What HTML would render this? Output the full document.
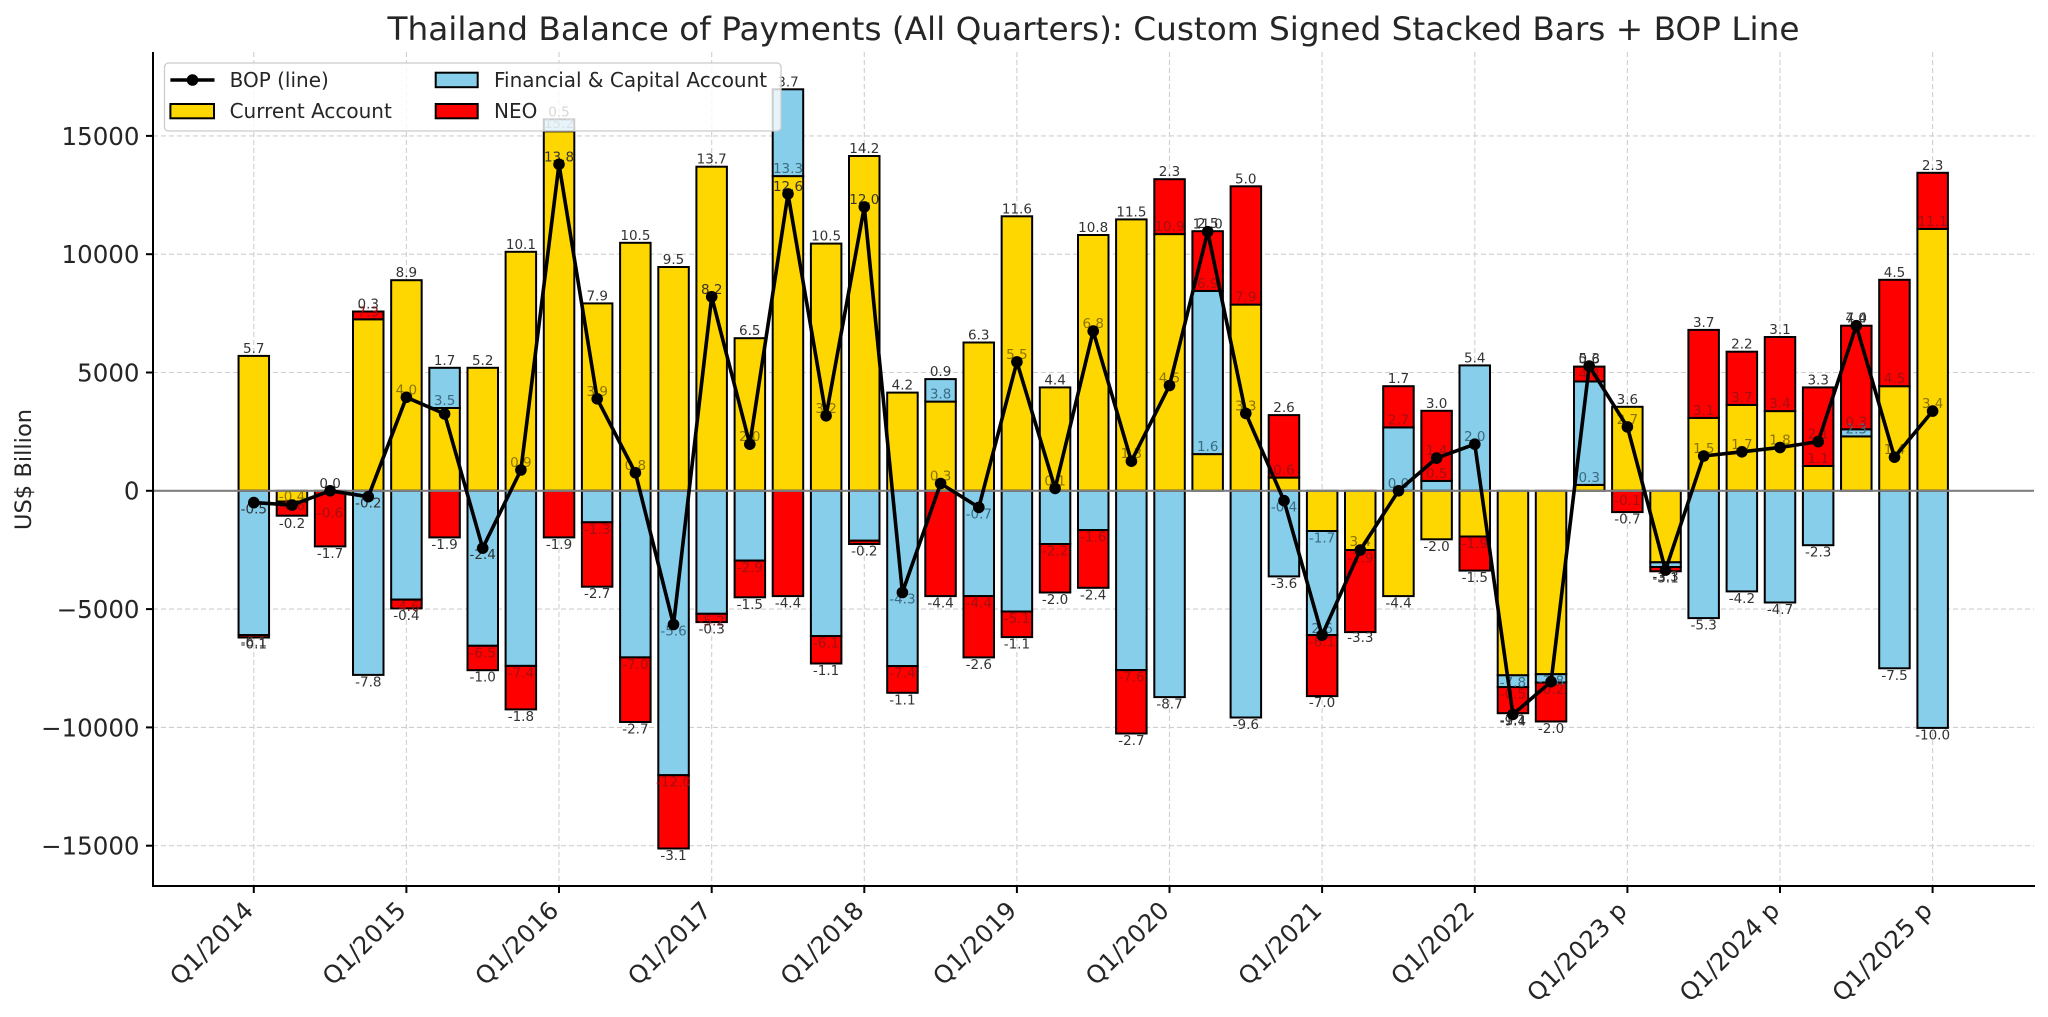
<!DOCTYPE html>
<html><head><meta charset="utf-8">
<style>
html,body{margin:0;padding:0;background:#fff;}
svg{display:block;font-family:"DejaVu Sans","Liberation Sans",sans-serif;}
.y{fill:#FFD700}.b{fill:#87CEEB}.r{fill:#FF0000}
.l{fill:#333}.lr{fill:#a31010}.lb{fill:#3b6b82}.lo{fill:#8a7300}
.bl text{font-size:13.5px;text-anchor:middle}
.tk{font-size:24.5px;fill:#262626}
</style></head>
<body>
<svg width="2048" height="1017" viewBox="0 0 2048 1017" xmlns="http://www.w3.org/2000/svg">
<rect width="2048" height="1017" fill="#fff"/>
<g stroke="#cfcfcf" stroke-width="1.1" stroke-dasharray="5 3">
<line x1="153" x2="2034" y1="845.7" y2="845.7"/><line x1="153" x2="2034" y1="727.4" y2="727.4"/><line x1="153" x2="2034" y1="609.1" y2="609.1"/><line x1="153" x2="2034" y1="372.5" y2="372.5"/><line x1="153" x2="2034" y1="254.2" y2="254.2"/><line x1="153" x2="2034" y1="135.9" y2="135.9"/>
<line x1="253.8" x2="253.8" y1="52" y2="886"/><line x1="406.4" x2="406.4" y1="52" y2="886"/><line x1="559.0" x2="559.0" y1="52" y2="886"/><line x1="711.7" x2="711.7" y1="52" y2="886"/><line x1="864.3" x2="864.3" y1="52" y2="886"/><line x1="1016.9" x2="1016.9" y1="52" y2="886"/><line x1="1169.5" x2="1169.5" y1="52" y2="886"/><line x1="1322.1" x2="1322.1" y1="52" y2="886"/><line x1="1474.8" x2="1474.8" y1="52" y2="886"/><line x1="1627.4" x2="1627.4" y1="52" y2="886"/><line x1="1780.0" x2="1780.0" y1="52" y2="886"/><line x1="1932.6" x2="1932.6" y1="52" y2="886"/>
</g>
<g stroke="#000" stroke-width="2">
<rect class="y" x="238.55" y="355.9" width="30.5" height="134.9"/><rect class="b" x="238.55" y="490.8" width="30.5" height="144.3"/><rect class="r" x="238.55" y="635.1" width="30.5" height="2.4"/>
<rect class="y" x="276.7" y="490.8" width="30.5" height="10.7"/><rect class="r" x="276.7" y="501.5" width="30.5" height="14.2"/>
<rect class="r" x="314.86" y="490.8" width="30.5" height="55.6"/>
<rect class="y" x="353.0" y="319.3" width="30.5" height="171.5"/><rect class="r" x="353.0" y="311.5" width="30.5" height="7.8"/><rect class="b" x="353.0" y="490.8" width="30.5" height="184.1"/>
<rect class="y" x="391.17" y="280.2" width="30.5" height="210.6"/><rect class="b" x="391.17" y="490.8" width="30.5" height="108.8"/><rect class="r" x="391.17" y="599.6" width="30.5" height="8.8"/>
<rect class="y" x="429.33" y="408.0" width="30.5" height="82.8"/><rect class="b" x="429.33" y="367.8" width="30.5" height="40.2"/><rect class="r" x="429.33" y="490.8" width="30.5" height="46.6"/>
<rect class="y" x="467.5" y="367.8" width="30.5" height="123.0"/><rect class="b" x="467.5" y="490.8" width="30.5" height="155.0"/><rect class="r" x="467.5" y="645.8" width="30.5" height="24.4"/>
<rect class="y" x="505.6" y="251.8" width="30.5" height="239.0"/><rect class="b" x="505.6" y="490.8" width="30.5" height="175.1"/><rect class="r" x="505.6" y="665.9" width="30.5" height="43.5"/>
<rect class="y" x="543.8" y="131.2" width="30.5" height="359.6"/><rect class="b" x="543.8" y="119.3" width="30.5" height="11.9"/><rect class="r" x="543.8" y="490.8" width="30.5" height="46.6"/>
<rect class="y" x="581.9" y="303.4" width="30.5" height="187.4"/><rect class="b" x="581.9" y="490.8" width="30.5" height="31.5"/><rect class="r" x="581.9" y="522.3" width="30.5" height="64.4"/>
<rect class="y" x="620.1" y="242.8" width="30.5" height="248.0"/><rect class="b" x="620.1" y="490.8" width="30.5" height="166.6"/><rect class="r" x="620.1" y="657.4" width="30.5" height="64.6"/>
<rect class="y" x="658.3" y="267.0" width="30.5" height="223.8"/><rect class="b" x="658.3" y="490.8" width="30.5" height="284.4"/><rect class="r" x="658.3" y="775.2" width="30.5" height="73.3"/>
<rect class="y" x="696.4" y="166.7" width="30.5" height="324.1"/><rect class="b" x="696.4" y="490.8" width="30.5" height="123.0"/><rect class="r" x="696.4" y="613.8" width="30.5" height="8.3"/>
<rect class="y" x="734.6" y="338.2" width="30.5" height="152.6"/><rect class="b" x="734.6" y="490.8" width="30.5" height="69.8"/><rect class="r" x="734.6" y="560.6" width="30.5" height="36.7"/>
<rect class="y" x="772.7" y="176.1" width="30.5" height="314.7"/><rect class="b" x="772.7" y="89.3" width="30.5" height="86.8"/><rect class="r" x="772.7" y="490.8" width="30.5" height="105.3"/>
<rect class="y" x="810.9" y="243.6" width="30.5" height="247.2"/><rect class="b" x="810.9" y="490.8" width="30.5" height="145.3"/><rect class="r" x="810.9" y="636.1" width="30.5" height="27.4"/>
<rect class="y" x="849.0" y="156.0" width="30.5" height="334.8"/><rect class="b" x="849.0" y="490.8" width="30.5" height="49.9"/><rect class="r" x="849.0" y="540.7" width="30.5" height="3.3"/>
<rect class="y" x="887.2" y="392.6" width="30.5" height="98.2"/><rect class="b" x="887.2" y="490.8" width="30.5" height="175.3"/><rect class="r" x="887.2" y="666.1" width="30.5" height="26.7"/>
<rect class="y" x="925.3" y="401.6" width="30.5" height="89.2"/><rect class="b" x="925.3" y="379.1" width="30.5" height="22.5"/><rect class="r" x="925.3" y="490.8" width="30.5" height="105.3"/>
<rect class="y" x="963.5" y="342.5" width="30.5" height="148.3"/><rect class="b" x="963.5" y="490.8" width="30.5" height="105.3"/><rect class="r" x="963.5" y="596.1" width="30.5" height="61.3"/>
<rect class="y" x="1001.65" y="216.3" width="30.5" height="274.5"/><rect class="b" x="1001.65" y="490.8" width="30.5" height="120.7"/><rect class="r" x="1001.65" y="611.5" width="30.5" height="25.6"/>
<rect class="y" x="1039.8" y="387.4" width="30.5" height="103.4"/><rect class="b" x="1039.8" y="490.8" width="30.5" height="53.2"/><rect class="r" x="1039.8" y="544.0" width="30.5" height="48.5"/>
<rect class="y" x="1078.0" y="235.0" width="30.5" height="255.8"/><rect class="b" x="1078.0" y="490.8" width="30.5" height="39.3"/><rect class="r" x="1078.0" y="530.1" width="30.5" height="57.7"/>
<rect class="y" x="1116.1" y="219.4" width="30.5" height="271.4"/><rect class="b" x="1116.1" y="490.8" width="30.5" height="179.3"/><rect class="r" x="1116.1" y="670.1" width="30.5" height="63.4"/>
<rect class="y" x="1154.3" y="234.1" width="30.5" height="256.7"/><rect class="r" x="1154.3" y="179.2" width="30.5" height="54.9"/><rect class="b" x="1154.3" y="490.8" width="30.5" height="206.3"/>
<rect class="y" x="1192.4" y="454.1" width="30.5" height="36.7"/><rect class="b" x="1192.4" y="290.9" width="30.5" height="163.2"/><rect class="r" x="1192.4" y="231.2" width="30.5" height="59.7"/>
<rect class="y" x="1230.6" y="304.6" width="30.5" height="186.2"/><rect class="r" x="1230.6" y="186.3" width="30.5" height="118.3"/><rect class="b" x="1230.6" y="490.8" width="30.5" height="226.7"/>
<rect class="y" x="1268.7" y="477.6" width="30.5" height="13.2"/><rect class="r" x="1268.7" y="415.1" width="30.5" height="62.5"/><rect class="b" x="1268.7" y="490.8" width="30.5" height="85.6"/>
<rect class="y" x="1306.9" y="490.8" width="30.5" height="40.2"/><rect class="b" x="1306.9" y="531.0" width="30.5" height="104.1"/><rect class="r" x="1306.9" y="635.1" width="30.5" height="61.0"/>
<rect class="y" x="1345.0" y="490.8" width="30.5" height="59.2"/><rect class="r" x="1345.0" y="550.0" width="30.5" height="82.1"/>
<rect class="b" x="1383.2" y="427.4" width="30.5" height="63.4"/><rect class="r" x="1383.2" y="386.2" width="30.5" height="41.2"/><rect class="y" x="1383.2" y="490.8" width="30.5" height="105.3"/>
<rect class="b" x="1421.35" y="480.9" width="30.5" height="9.9"/><rect class="r" x="1421.35" y="410.8" width="30.5" height="70.1"/><rect class="y" x="1421.35" y="490.8" width="30.5" height="48.5"/>
<rect class="b" x="1459.5" y="365.4" width="30.5" height="125.4"/><rect class="y" x="1459.5" y="490.8" width="30.5" height="45.7"/><rect class="r" x="1459.5" y="536.5" width="30.5" height="34.1"/>
<rect class="y" x="1497.7" y="490.8" width="30.5" height="184.5"/><rect class="b" x="1497.7" y="675.3" width="30.5" height="11.8"/><rect class="r" x="1497.7" y="687.1" width="30.5" height="26.1"/>
<rect class="y" x="1535.8" y="490.8" width="30.5" height="183.4"/><rect class="b" x="1535.8" y="674.2" width="30.5" height="8.3"/><rect class="r" x="1535.8" y="682.5" width="30.5" height="39.0"/>
<rect class="y" x="1574.0" y="484.9" width="30.5" height="5.9"/><rect class="b" x="1574.0" y="381.5" width="30.5" height="103.4"/><rect class="r" x="1574.0" y="366.6" width="30.5" height="14.9"/>
<rect class="y" x="1612.1" y="406.8" width="30.5" height="84.0"/><rect class="r" x="1612.1" y="490.8" width="30.5" height="21.3"/>
<rect class="y" x="1650.3" y="490.8" width="30.5" height="71.5"/><rect class="b" x="1650.3" y="562.3" width="30.5" height="4.7"/><rect class="r" x="1650.3" y="567.0" width="30.5" height="4.3"/>
<rect class="y" x="1688.4" y="417.9" width="30.5" height="72.9"/><rect class="r" x="1688.4" y="329.9" width="30.5" height="88.0"/><rect class="b" x="1688.4" y="490.8" width="30.5" height="127.3"/>
<rect class="y" x="1726.6" y="404.9" width="30.5" height="85.9"/><rect class="r" x="1726.6" y="351.7" width="30.5" height="53.2"/><rect class="b" x="1726.6" y="490.8" width="30.5" height="100.6"/>
<rect class="y" x="1764.75" y="411.1" width="30.5" height="79.7"/><rect class="r" x="1764.75" y="337.0" width="30.5" height="74.1"/><rect class="b" x="1764.75" y="490.8" width="30.5" height="111.7"/>
<rect class="y" x="1802.9" y="466.0" width="30.5" height="24.8"/><rect class="r" x="1802.9" y="387.4" width="30.5" height="78.6"/><rect class="b" x="1802.9" y="490.8" width="30.5" height="54.4"/>
<rect class="y" x="1841.05" y="436.4" width="30.5" height="54.4"/><rect class="b" x="1841.05" y="429.3" width="30.5" height="7.1"/><rect class="r" x="1841.05" y="325.7" width="30.5" height="103.6"/>
<rect class="y" x="1879.2" y="386.2" width="30.5" height="104.6"/><rect class="r" x="1879.2" y="279.8" width="30.5" height="106.4"/><rect class="b" x="1879.2" y="490.8" width="30.5" height="177.5"/>
<rect class="y" x="1917.4" y="228.9" width="30.5" height="261.9"/><rect class="r" x="1917.4" y="172.8" width="30.5" height="56.1"/><rect class="b" x="1917.4" y="490.8" width="30.5" height="237.1"/>
</g>
<line x1="153" x2="2034" y1="490.8" y2="490.8" stroke="#808080" stroke-width="2.2"/>
<g class="bl">
<text class="l" x="253.8" y="352.9">5.7</text><text class="l" x="253.8" y="646.6">-6.1</text><text class="l" x="253.8" y="648.5">-0.1</text><text class="l" x="253.8" y="513.6">-0.5</text>
<text class="lo" x="292.0" y="501">-0.4</text><text class="lr" x="292.0" y="510">-0.6</text><text class="l" x="292.0" y="528">-0.2</text>
<text class="l" x="330.1" y="487.8">0.0</text><text class="lr" x="330.1" y="517.5">-0.6</text><text class="l" x="330.1" y="557.9">-1.7</text>
<text class="lr" x="368.3" y="316.3">7.3</text><text class="l" x="368.3" y="308.5">0.3</text><text class="l" x="368.3" y="686.4">-7.8</text><text class="l" x="368.3" y="507.7">-0.2</text>
<text class="l" x="406.4" y="277.2">8.9</text><text class="lr" x="406.4" y="611.1">-4.6</text><text class="l" x="406.4" y="619.9">-0.4</text><text class="lo" x="406.4" y="394.3">4.0</text>
<text class="lb" x="444.6" y="405.0">3.5</text><text class="l" x="444.6" y="364.8">1.7</text><text class="l" x="444.6" y="548.9">-1.9</text>
<text class="l" x="482.7" y="364.8">5.2</text><text class="lr" x="482.7" y="657.3">-6.5</text><text class="l" x="482.7" y="681.6">-1.0</text><text class="l" x="482.7" y="559.1">-2.4</text>
<text class="l" x="520.9" y="248.8">10.1</text><text class="lr" x="520.9" y="677.4">-7.4</text><text class="l" x="520.9" y="720.9">-1.8</text><text class="lo" x="520.9" y="467.0">0.9</text>
<text class="lb" x="559.0" y="128.2">15.2</text><text class="l" x="559.0" y="116.3">0.5</text><text class="l" x="559.0" y="548.9">-1.9</text><text class="l" x="559.0" y="161.3">13.8</text>
<text class="l" x="597.2" y="300.4">7.9</text><text class="lr" x="597.2" y="533.8">-1.3</text><text class="l" x="597.2" y="598.1">-2.7</text><text class="lo" x="597.2" y="395.8">3.9</text>
<text class="l" x="635.4" y="239.8">10.5</text><text class="lr" x="635.4" y="668.9">-7.0</text><text class="l" x="635.4" y="733.5">-2.7</text><text class="lo" x="635.4" y="469.8">0.8</text>
<text class="l" x="673.5" y="264.0">9.5</text><text class="lr" x="673.5" y="786.7">-12.0</text><text class="l" x="673.5" y="860.0">-3.1</text><text class="lb" x="673.5" y="635.5">-5.6</text>
<text class="l" x="711.7" y="163.7">13.7</text><text class="lr" x="711.7" y="625.3">-5.2</text><text class="l" x="711.7" y="633.6">-0.3</text><text class="l" x="711.7" y="293.8">8.2</text>
<text class="l" x="749.8" y="335.2">6.5</text><text class="lr" x="749.8" y="572.1">-2.9</text><text class="l" x="749.8" y="608.8">-1.5</text><text class="lo" x="749.8" y="441.2">2.0</text>
<text class="lb" x="788.0" y="173.1">13.3</text><text class="l" x="788.0" y="86.3">3.7</text><text class="l" x="788.0" y="607.6">-4.4</text><text class="l" x="788.0" y="190.9">12.6</text>
<text class="l" x="826.1" y="240.6">10.5</text><text class="lr" x="826.1" y="647.6">-6.1</text><text class="l" x="826.1" y="675.0">-1.1</text><text class="lo" x="826.1" y="412.8">3.2</text>
<text class="l" x="864.3" y="153.0">14.2</text><text class="l" x="864.3" y="555.5">-0.2</text><text class="l" x="864.3" y="203.9">12.0</text>
<text class="l" x="902.4" y="389.6">4.2</text><text class="lr" x="902.4" y="677.6">-7.4</text><text class="l" x="902.4" y="704.4">-1.1</text><text class="lb" x="902.4" y="603.5">-4.3</text>
<text class="lb" x="940.6" y="398.6">3.8</text><text class="l" x="940.6" y="376.1">0.9</text><text class="l" x="940.6" y="607.6">-4.4</text><text class="lo" x="940.6" y="480.5">0.3</text>
<text class="l" x="978.8" y="339.5">6.3</text><text class="lr" x="978.8" y="607.6">-4.4</text><text class="l" x="978.8" y="668.9">-2.6</text><text class="lb" x="978.8" y="518.4">-0.7</text>
<text class="l" x="1016.9" y="213.3">11.6</text><text class="lr" x="1016.9" y="623.0">-5.1</text><text class="l" x="1016.9" y="648.5">-1.1</text><text class="lo" x="1016.9" y="358.9">5.5</text>
<text class="l" x="1055.1" y="384.4">4.4</text><text class="lr" x="1055.1" y="555.5">-2.2</text><text class="l" x="1055.1" y="604.0">-2.0</text><text class="lo" x="1055.1" y="485.4">0.1</text>
<text class="l" x="1093.2" y="232.0">10.8</text><text class="lr" x="1093.2" y="541.6">-1.6</text><text class="l" x="1093.2" y="599.3">-2.4</text><text class="lo" x="1093.2" y="328.1">6.8</text>
<text class="l" x="1131.4" y="216.4">11.5</text><text class="lr" x="1131.4" y="681.6">-7.6</text><text class="l" x="1131.4" y="745.1">-2.7</text><text class="lo" x="1131.4" y="458.2">1.3</text>
<text class="lr" x="1169.5" y="231.1">10.9</text><text class="l" x="1169.5" y="176.2">2.3</text><text class="l" x="1169.5" y="708.6">-8.7</text><text class="lo" x="1169.5" y="382.5">4.5</text>
<text class="lb" x="1207.7" y="451.1">1.6</text><text class="lr" x="1207.7" y="287.9">6.9</text><text class="l" x="1207.7" y="228.2">2.5</text><text class="l" x="1207.7" y="228.7">11.0</text>
<text class="lr" x="1245.8" y="301.6">7.9</text><text class="l" x="1245.8" y="183.3">5.0</text><text class="l" x="1245.8" y="729.0">-9.6</text><text class="lo" x="1245.8" y="410.4">3.3</text>
<text class="lr" x="1284.0" y="474.6">0.6</text><text class="l" x="1284.0" y="412.1">2.6</text><text class="l" x="1284.0" y="587.9">-3.6</text><text class="lb" x="1284.0" y="511.7">-0.4</text>
<text class="lb" x="1322.1" y="542.5">-1.7</text><text class="lb" x="1322.1" y="633">2.6</text><text class="lr" x="1322.1" y="646.5">-6.1</text><text class="l" x="1322.1" y="707">-7.0</text>
<text class="lo" x="1360.3" y="546">3.4</text><text class="lr" x="1360.3" y="562.5">-2.9</text><text class="l" x="1360.3" y="642">-3.3</text>
<text class="lr" x="1398.5" y="424.4">2.7</text><text class="l" x="1398.5" y="383.2">1.7</text><text class="l" x="1398.5" y="607.6">-4.4</text><text class="lb" x="1398.5" y="487.8">0.0</text>
<text class="lr" x="1436.6" y="477.9">0.5</text><text class="l" x="1436.6" y="407.8">3.0</text><text class="l" x="1436.6" y="550.8">-2.0</text><text class="lr" x="1436.6" y="455.1">1.4</text>
<text class="l" x="1474.8" y="362.4">5.4</text><text class="lr" x="1474.8" y="548.0">-1.9</text><text class="l" x="1474.8" y="582.0">-1.5</text><text class="lb" x="1474.8" y="441.2">2.0</text>
<text class="lb" x="1512.9" y="686.8">-7.8</text><text class="lr" x="1512.9" y="698.7">-0.5</text><text class="l" x="1512.9" y="724.7">-1.1</text><text class="l" x="1512.9" y="725.4">-9.4</text>
<text class="lb" x="1551.1" y="685.7">-7.8</text><text class="lr" x="1551.1" y="693.9">-0.2</text><text class="l" x="1551.1" y="733.0">-2.0</text>
<text class="lb" x="1589.2" y="481.9">0.3</text><text class="lr" x="1589.2" y="378.5">4.4</text><text class="l" x="1589.2" y="363.6">0.6</text><text class="l" x="1589.2" y="363.1">5.3</text>
<text class="l" x="1627.4" y="403.8">3.6</text><text class="lr" x="1627.4" y="505">-0.1</text><text class="l" x="1627.4" y="523.6">-0.7</text><text class="lo" x="1627.4" y="423.9">2.7</text>
<text class="l" x="1665.5" y="582.7">-3.1</text><text class="l" x="1665.5" y="581">-3.3</text>
<text class="lr" x="1703.7" y="414.9">3.1</text><text class="l" x="1703.7" y="326.9">3.7</text><text class="l" x="1703.7" y="629.6">-5.3</text><text class="lo" x="1703.7" y="453.0">1.5</text>
<text class="lr" x="1741.9" y="401.9">3.7</text><text class="l" x="1741.9" y="348.7">2.2</text><text class="l" x="1741.9" y="602.9">-4.2</text><text class="lo" x="1741.9" y="448.8">1.7</text>
<text class="lr" x="1780.0" y="408.1">3.4</text><text class="l" x="1780.0" y="334.0">3.1</text><text class="l" x="1780.0" y="614.0">-4.7</text><text class="lo" x="1780.0" y="444.5">1.8</text>
<text class="lr" x="1818.2" y="463.0">1.1</text><text class="l" x="1818.2" y="384.4">3.3</text><text class="l" x="1818.2" y="556.7">-2.3</text><text class="lr" x="1818.2" y="438.6">2.1</text>
<text class="lb" x="1856.3" y="433.4">2.3</text><text class="lr" x="1856.3" y="426.3">0.3</text><text class="l" x="1856.3" y="322.7">4.4</text><text class="l" x="1856.3" y="322.7">7.0</text>
<text class="lr" x="1894.5" y="383.2">4.5</text><text class="l" x="1894.5" y="276.8">4.5</text><text class="l" x="1894.5" y="679.8">-7.5</text><text class="lo" x="1894.5" y="454.2">1.4</text>
<text class="lr" x="1932.6" y="225.9">11.1</text><text class="l" x="1932.6" y="169.8">2.3</text><text class="l" x="1932.6" y="739.4">-10.0</text><text class="lo" x="1932.6" y="408.1">3.4</text>
</g>
<polyline fill="none" stroke="#000" stroke-width="3.6" stroke-linejoin="round" points="253.8,502.6 292.0,505.0 330.1,490.8 368.3,496.7 406.4,397.3 444.6,413.9 482.7,548.1 520.9,470.0 559.0,164.3 597.2,398.8 635.4,472.8 673.5,624.5 711.7,296.8 749.8,444.2 788.0,193.9 826.1,415.8 864.3,206.9 902.4,592.5 940.6,483.5 978.8,507.4 1016.9,361.9 1055.1,488.4 1093.2,331.1 1131.4,461.2 1169.5,385.5 1207.7,231.7 1245.8,413.4 1284.0,500.7 1322.1,635.1 1360.3,550.0 1398.5,490.8 1436.6,458.1 1474.8,444.2 1512.9,714.4 1551.1,681.7 1589.2,366.1 1627.4,426.9 1665.5,570.1 1703.7,456.0 1741.9,451.8 1780.0,447.5 1818.2,441.6 1856.3,325.7 1894.5,457.2 1932.6,411.1"/>
<g fill="#000">
<circle cx="253.8" cy="502.6" r="5.8"/><circle cx="292.0" cy="505.0" r="5.8"/><circle cx="330.1" cy="490.8" r="5.8"/><circle cx="368.3" cy="496.7" r="5.8"/><circle cx="406.4" cy="397.3" r="5.8"/><circle cx="444.6" cy="413.9" r="5.8"/><circle cx="482.7" cy="548.1" r="5.8"/><circle cx="520.9" cy="470.0" r="5.8"/><circle cx="559.0" cy="164.3" r="5.8"/><circle cx="597.2" cy="398.8" r="5.8"/><circle cx="635.4" cy="472.8" r="5.8"/><circle cx="673.5" cy="624.5" r="5.8"/><circle cx="711.7" cy="296.8" r="5.8"/><circle cx="749.8" cy="444.2" r="5.8"/><circle cx="788.0" cy="193.9" r="5.8"/><circle cx="826.1" cy="415.8" r="5.8"/><circle cx="864.3" cy="206.9" r="5.8"/><circle cx="902.4" cy="592.5" r="5.8"/><circle cx="940.6" cy="483.5" r="5.8"/><circle cx="978.8" cy="507.4" r="5.8"/><circle cx="1016.9" cy="361.9" r="5.8"/><circle cx="1055.1" cy="488.4" r="5.8"/><circle cx="1093.2" cy="331.1" r="5.8"/><circle cx="1131.4" cy="461.2" r="5.8"/><circle cx="1169.5" cy="385.5" r="5.8"/><circle cx="1207.7" cy="231.7" r="5.8"/><circle cx="1245.8" cy="413.4" r="5.8"/><circle cx="1284.0" cy="500.7" r="5.8"/><circle cx="1322.1" cy="635.1" r="5.8"/><circle cx="1360.3" cy="550.0" r="5.8"/><circle cx="1398.5" cy="490.8" r="5.8"/><circle cx="1436.6" cy="458.1" r="5.8"/><circle cx="1474.8" cy="444.2" r="5.8"/><circle cx="1512.9" cy="714.4" r="5.8"/><circle cx="1551.1" cy="681.7" r="5.8"/><circle cx="1589.2" cy="366.1" r="5.8"/><circle cx="1627.4" cy="426.9" r="5.8"/><circle cx="1665.5" cy="570.1" r="5.8"/><circle cx="1703.7" cy="456.0" r="5.8"/><circle cx="1741.9" cy="451.8" r="5.8"/><circle cx="1780.0" cy="447.5" r="5.8"/><circle cx="1818.2" cy="441.6" r="5.8"/><circle cx="1856.3" cy="325.7" r="5.8"/><circle cx="1894.5" cy="457.2" r="5.8"/><circle cx="1932.6" cy="411.1" r="5.8"/>
</g>
<g stroke="#000" stroke-width="2">
<line x1="153" x2="153" y1="52" y2="887"/>
<line x1="152" x2="2035" y1="886" y2="886"/>
<line x1="146" x2="153" y1="845.7" y2="845.7"/><line x1="146" x2="153" y1="727.4" y2="727.4"/><line x1="146" x2="153" y1="609.1" y2="609.1"/><line x1="146" x2="153" y1="490.8" y2="490.8"/><line x1="146" x2="153" y1="372.5" y2="372.5"/><line x1="146" x2="153" y1="254.2" y2="254.2"/><line x1="146" x2="153" y1="135.9" y2="135.9"/>
<line x1="253.8" x2="253.8" y1="886" y2="893"/><line x1="406.4" x2="406.4" y1="886" y2="893"/><line x1="559.0" x2="559.0" y1="886" y2="893"/><line x1="711.7" x2="711.7" y1="886" y2="893"/><line x1="864.3" x2="864.3" y1="886" y2="893"/><line x1="1016.9" x2="1016.9" y1="886" y2="893"/><line x1="1169.5" x2="1169.5" y1="886" y2="893"/><line x1="1322.1" x2="1322.1" y1="886" y2="893"/><line x1="1474.8" x2="1474.8" y1="886" y2="893"/><line x1="1627.4" x2="1627.4" y1="886" y2="893"/><line x1="1780.0" x2="1780.0" y1="886" y2="893"/><line x1="1932.6" x2="1932.6" y1="886" y2="893"/>
</g>
<g class="tk" text-anchor="end">
<text x="139.5" y="854.6">−15000</text><text x="139.5" y="736.3">−10000</text><text x="139.5" y="618.0">−5000</text><text x="139.5" y="499.7">0</text><text x="139.5" y="381.4">5000</text><text x="139.5" y="263.1">10000</text><text x="139.5" y="144.8">15000</text>
</g>
<g class="tk" text-anchor="end">
<text transform="translate(254.8,912) rotate(-45)">Q1/2014</text>
<text transform="translate(407.4,912) rotate(-45)">Q1/2015</text>
<text transform="translate(560.0,912) rotate(-45)">Q1/2016</text>
<text transform="translate(712.7,912) rotate(-45)">Q1/2017</text>
<text transform="translate(865.3,912) rotate(-45)">Q1/2018</text>
<text transform="translate(1017.9,912) rotate(-45)">Q1/2019</text>
<text transform="translate(1170.5,912) rotate(-45)">Q1/2020</text>
<text transform="translate(1323.1,912) rotate(-45)">Q1/2021</text>
<text transform="translate(1475.8,912) rotate(-45)">Q1/2022</text>
<text transform="translate(1628.4,912) rotate(-45)">Q1/2023 p</text>
<text transform="translate(1781.0,912) rotate(-45)">Q1/2024 p</text>
<text transform="translate(1933.6,912) rotate(-45)">Q1/2025 p</text>
</g>
<text transform="translate(31,469.5) rotate(-90)" text-anchor="middle" font-size="22.6" fill="#262626">US$ Billion</text>
<text x="1093.5" y="40" text-anchor="middle" font-size="32.4" fill="#262626" textLength="1412" lengthAdjust="spacingAndGlyphs">Thailand Balance of Payments (All Quarters): Custom Signed Stacked Bars + BOP Line</text>
<rect x="164.5" y="63" width="616.5" height="68" rx="4" ry="4" fill="#fff" fill-opacity="0.8" stroke="#cccccc" stroke-width="1.3"/>
<line x1="170.4" x2="214.5" y1="80" y2="80" stroke="#000" stroke-width="3.6"/>
<circle cx="192.5" cy="80" r="5.8" fill="#000"/>
<rect x="170.4" y="104" width="43.6" height="14.3" fill="#FFD700" stroke="#000" stroke-width="2"/>
<rect x="435.7" y="72.7" width="42" height="14.5" fill="#87CEEB" stroke="#000" stroke-width="2"/>
<rect x="435.7" y="104" width="42" height="14.3" fill="#FF0000" stroke="#000" stroke-width="2"/>
<g font-size="20" fill="#262626">
<text x="229.6" y="87">BOP (line)</text>
<text x="229.6" y="118">Current Account</text>
<text x="494" y="87">Financial &amp; Capital Account</text>
<text x="494" y="118">NEO</text>
</g>
</svg>
</body></html>
